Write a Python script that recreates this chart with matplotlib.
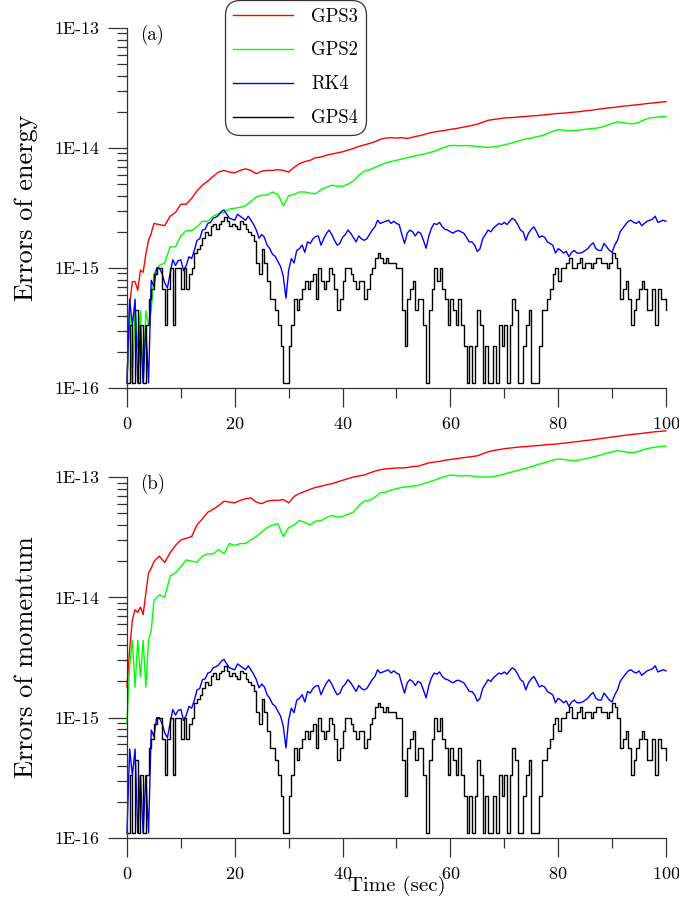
import numpy as np
import matplotlib.pyplot as plt
from matplotlib.ticker import FixedLocator, LogLocator, NullFormatter, MultipleLocator

plt.rcParams['font.family'] = 'cmr10'
plt.rcParams['mathtext.fontset'] = 'cm'
plt.rcParams['axes.formatter.use_mathtext'] = True

# time grids (sec)
t_half = np.arange(0, 100.01, 0.5)                        # RK4 / GPS4 sampling
t_mix = np.r_[np.arange(0, 5, 0.5), np.arange(5, 101)]    # GPS3 / GPS2 sampling

# GPS4 error, in quanta of 1.11E-16 (same curve in both panels)
quantum = 1.11e-16
gps4_q = [
    1, 3, 1, 4, 1, 3, 1, 3, 5, 6,
    8, 9, 9, 6, 3, 6, 9, 3, 9, 9,
    6, 9, 6, 8, 9, 12, 13, 14, 16, 18,
    17, 20, 21, 19, 21, 22, 24, 22, 20, 21,
    20, 19, 22, 21, 19, 18, 17, 15, 10, 8,
    13, 10, 7, 5, 5, 4, 3, 2, 1, 1,
    2, 3, 5, 4, 5, 6, 7, 6, 7, 8,
    5, 9, 7, 6, 7, 9, 8, 6, 4, 5,
    7, 9, 9, 8, 7, 6, 7, 7, 5, 6,
    8, 9, 11, 12, 11, 10, 11, 10, 10, 10,
    9, 9, 4, 2, 5, 6, 7, 4, 5, 5,
    3, 1, 4, 6, 9, 7, 9, 6, 5, 3,
    5, 4, 3, 5, 3, 2, 1, 2, 1, 2,
    4, 3, 1, 2, 1, 1, 2, 1, 3, 2,
    3, 1, 3, 5, 4, 1, 1, 2, 3, 4,
    1, 1, 1, 2, 4, 4, 5, 6, 8, 9,
    7, 9, 9, 10, 11, 9, 9, 10, 11, 9,
    10, 10, 9, 10, 11, 11, 10, 10, 9, 10,
    12, 11, 9, 5, 6, 7, 5, 3, 4, 5,
    6, 7, 6, 4, 4, 6, 3, 6, 5, 5,
    4,
]

# RK4 error x 1E-16 (same curve in both panels)
rk4 = [
    1.1, 5.5, 3.3, 5.5, 1.1, 3.3, 1.1, 3.3, 1.1, 7.9,
    7.0, 10, 10, 9, 7.5, 6.8, 9, 11.7, 10.5, 11.5,
    11.7, 9.5, 10.5, 12.4, 12, 14, 17, 17.5, 20.7, 21,
    23.5, 24, 26, 26.5, 27.5, 29.5, 30.5, 28, 26, 25.5,
    25, 28, 27, 26, 25, 27, 25, 23, 20.7, 17.7,
    19, 18, 15.5, 14.5, 13, 12.5, 11.3, 10.3, 8.5, 5.6,
    9.6, 12, 11, 14, 14.5, 15.5, 13.5, 16.5, 16, 17.5,
    18.3, 18.5, 15.5, 17.5, 19.4, 20.7, 19, 17, 15.5, 16,
    18, 19, 20.7, 19.5, 18, 16.5, 18.5, 17.5, 17, 17.5,
    19, 20.7, 22, 25, 23.5, 24, 24.5, 25, 23.5, 24.5,
    23.5, 23, 19, 16, 19.5, 20.7, 20, 18.5, 20, 19.5,
    17, 14.6, 18.5, 21.5, 23.5, 23, 24, 22, 21, 20.7,
    20, 19.5, 20.2, 20.5, 20, 19.5, 18, 16.5, 16.5, 15.5,
    13.7, 14.5, 17.5, 19, 20.7, 20, 21.5, 22.5, 23.5, 23,
    24, 23, 24.5, 26, 25, 23, 20.7, 20, 17, 19.5,
    21, 22, 20, 18, 18.5, 18, 16.5, 16, 15.5, 13.3,
    14.5, 14, 13.3, 13.8, 12.4, 13.5, 14, 13.3, 13.3, 13.5,
    14, 14.5, 15.5, 16.2, 14.5, 14, 14, 16, 15, 14,
    13.5, 15.5, 17, 20, 21.5, 23, 24.5, 25, 24, 23.5,
    24.5, 22.5, 23.5, 24.5, 25, 25.5, 27, 24, 24.5, 25,
    24.5,
]

# energy errors x 1E-15
gps3_energy = [
    0.11, 0.5, 0.77, 0.77, 0.65, 0.96, 0.92, 1.3, 1.7, 1.94,
    2.35, 2.3, 2.25, 2.7, 2.9, 3.4, 3.4, 3.8, 4.4, 4.9,
    5.3, 5.8, 6.3, 6.5, 6.3, 6.2, 6.5, 6.7, 6.5, 6.1,
    6.4, 6.5, 6.5, 6.6, 6.5, 6.3, 6.9, 7.4, 7.7, 7.9,
    8.3, 8.4, 8.7, 8.9, 9.1, 9.3, 9.6, 9.9, 10.3, 10.6,
    10.9, 11.3, 11.8, 12.1, 12.2, 12.1, 12.2, 12.0, 12.3, 12.6,
    12.9, 13.3, 13.6, 13.8, 14.0, 14.3, 14.5, 14.8, 15.1, 15.4,
    15.8, 16.4, 17.0, 17.3, 17.5, 17.8, 17.9, 18.0, 18.2, 18.3,
    18.5, 18.6, 18.8, 19.0, 19.2, 19.4, 19.5, 19.7, 19.9, 20.1,
    20.4, 20.6, 20.9, 21.2, 21.5, 21.7, 22.0, 22.3, 22.5, 22.8,
    23.0, 23.3, 23.6, 23.8, 24.1, 24.3,
]
gps2_energy = [
    0.11, 0.44, 0.11, 0.44, 0.22, 0.44, 0.11, 0.44, 0.33, 0.44,
    0.9, 1.05, 1.1, 1.5, 1.5, 1.85, 2.05, 2.05, 2.2, 2.45,
    2.45, 2.7, 2.85, 2.9, 3.1, 3.15, 3.2, 3.3, 3.6, 3.9,
    4.05, 4.05, 4.3, 4.1, 3.3, 4.0, 4.1, 4.3, 4.3, 4.2,
    4.15, 4.5, 4.7, 4.9, 4.8, 4.8, 5.0, 5.3, 5.9, 6.4,
    6.6, 6.9, 7.2, 7.5, 7.7, 7.9, 8.1, 8.3, 8.5, 8.7,
    8.9, 9.1, 9.4, 9.8, 10.2, 10.5, 10.5, 10.4, 10.5, 10.4,
    10.3, 10.2, 10.1, 10.2, 10.4, 10.6, 10.9, 11.2, 11.6, 11.9,
    12.1, 12.4, 12.7, 13.2, 13.8, 14.2, 14.1, 13.9, 14.0, 14.1,
    14.3, 14.5, 14.6, 14.9, 15.4, 16.0, 16.5, 16.3, 16.0, 15.9,
    16.4, 17.2, 17.8, 18.0, 18.2, 18.3,
]

# momentum errors x 1E-14
gps3_momentum = [
    0.18, 0.37, 0.65, 0.79, 0.75, 0.83, 0.72, 1.08, 1.6, 1.75,
    1.98, 2.2, 1.95, 2.35, 2.7, 3.0, 3.1, 3.2, 4.0, 4.5,
    5.1, 5.4, 5.8, 6.3, 6.2, 6.1, 6.4, 6.6, 6.7, 6.2,
    6.0, 6.3, 6.4, 6.4, 6.5, 6.1, 6.9, 7.3, 7.6, 7.9,
    8.2, 8.4, 8.6, 8.8, 9.1, 9.4, 9.7, 10.0, 10.2, 10.4,
    10.8, 11.2, 11.5, 11.7, 11.8, 11.9, 11.9, 12.0, 12.2, 12.3,
    12.7, 13.1, 13.3, 13.5, 13.8, 14.0, 14.2, 14.4, 14.6, 14.8,
    15.0, 15.6, 16.2, 16.6, 16.9, 17.2, 17.4, 17.6, 17.8, 17.9,
    18.1, 18.2, 18.4, 18.6, 18.7, 18.9, 19.1, 19.3, 19.6, 19.8,
    20.1, 20.3, 20.6, 20.9, 21.2, 21.5, 21.8, 22.1, 22.4, 22.7,
    22.9, 23.2, 23.5, 23.8, 24.0, 24.2,
]
gps2_momentum = [
    0.09, 0.27, 0.44, 0.18, 0.44, 0.22, 0.44, 0.18, 0.44, 0.53,
    0.94, 1.05, 1.0, 1.5, 1.6, 1.8, 2.05, 2.0, 1.95, 2.2,
    2.3, 2.3, 2.5, 2.3, 2.8, 2.7, 2.8, 2.8, 3.0, 3.2,
    3.5, 3.8, 4.0, 4.1, 3.2, 3.8, 4.0, 4.35, 4.2, 4.0,
    4.3, 4.35, 4.6, 4.8, 4.65, 4.7, 4.9, 5.1, 5.8, 6.3,
    6.4, 6.8, 7.4, 7.5, 7.8, 8.0, 8.2, 8.3, 8.4, 8.5,
    8.8, 9.1, 9.4, 9.8, 10.1, 10.4, 10.3, 10.2, 10.3, 10.2,
    10.1, 10.0, 10.0, 10.1, 10.3, 10.6, 10.9, 11.2, 11.5, 11.8,
    12.2, 12.6, 13.0, 13.4, 13.8, 14.1, 14.0, 13.8, 13.7, 13.9,
    14.2, 14.5, 14.9, 15.3, 15.8, 16.2, 16.6, 16.3, 16.0, 16.0,
    16.4, 17.0, 17.4, 17.7, 17.9, 18.1,
]

assert len(gps4_q) == len(t_half) and len(rk4) == len(t_half)
for s in (gps3_energy, gps2_energy, gps3_momentum, gps2_momentum):
    assert len(s) == len(t_mix), len(s)

gps4 = np.array(gps4_q) * quantum
rk4 = np.array(rk4) * 1e-16

decades = [1e-16, 1e-15, 1e-14, 1e-13]
decade_labels = ['1E-16', '1E-15', '1E-14', '1E-13']
axis_color = '#333333'

fig = plt.figure(figsize=(6.79, 9.09), dpi=100)
ax_e = fig.add_axes([0.187, 0.5732, 0.7938, 0.396])
ax_m = fig.add_axes([0.187, 0.0781, 0.7938, 0.3971])

panels = [
    (ax_e, np.array(gps3_energy) * 1e-15, np.array(gps2_energy) * 1e-15,
     'Errors of energy', '(a)'),
    (ax_m, np.array(gps3_momentum) * 1e-14, np.array(gps2_momentum) * 1e-14,
     'Errors of momentum', '(b)'),
]

for ax, g3, g2, ylab, tag in panels:
    ax.plot(t_mix, g3, color='#ff0000', lw=1.0, label='GPS3', clip_on=False)
    ax.plot(t_mix, g2, color='#00ff00', lw=1.0, label='GPS2', clip_on=False)
    ax.plot(t_half, rk4, color='#0000ff', lw=1.0, label='RK4', clip_on=False)
    ax.plot(t_half, gps4, color='black', lw=1.0, label='GPS4',
            drawstyle='steps-post', clip_on=False)

    ax.set_yscale('log')
    ax.set_ylim(1e-16, 1e-13)
    ax.set_xlim(0, 100)

    ax.yaxis.set_major_locator(FixedLocator(decades))
    ax.set_yticklabels(decade_labels)
    ax.yaxis.set_minor_locator(LogLocator(base=10, subs=np.arange(2, 10)))
    ax.yaxis.set_minor_formatter(NullFormatter())
    ax.xaxis.set_major_locator(MultipleLocator(20))
    ax.xaxis.set_minor_locator(MultipleLocator(10))

    ax.tick_params(which='major', direction='out', length=14, width=0.9,
                   color=axis_color, labelsize=13, pad=6)
    ax.tick_params(which='minor', direction='out', length=7, width=0.9,
                   color=axis_color)
    for side in ('top', 'right'):
        ax.spines[side].set_visible(False)
    for side in ('left', 'bottom'):
        ax.spines[side].set_color(axis_color)
        ax.spines[side].set_linewidth(0.9)

    ax.set_ylabel(ylab, fontsize=19, labelpad=12)
    ax.text(0.024, 0.98, tag, transform=ax.transAxes, fontsize=13.5,
            ha='left', va='center')

ax_m.set_xlabel('Time (sec)', fontsize=15, labelpad=-4)

leg = ax_e.legend(loc='upper left', bbox_to_anchor=(0.1855, 1.072),
                  borderaxespad=0, fontsize=13.5, frameon=True, fancybox=True,
                  labelspacing=0.85, handlelength=3.2, handletextpad=1.0,
                  borderpad=0.3)
leg.get_frame().set_edgecolor('black')
leg.get_frame().set_linewidth(0.9)
leg.get_frame().set_boxstyle('round,pad=0.1,rounding_size=0.8')

fig.savefig('out.png', dpi=100)
